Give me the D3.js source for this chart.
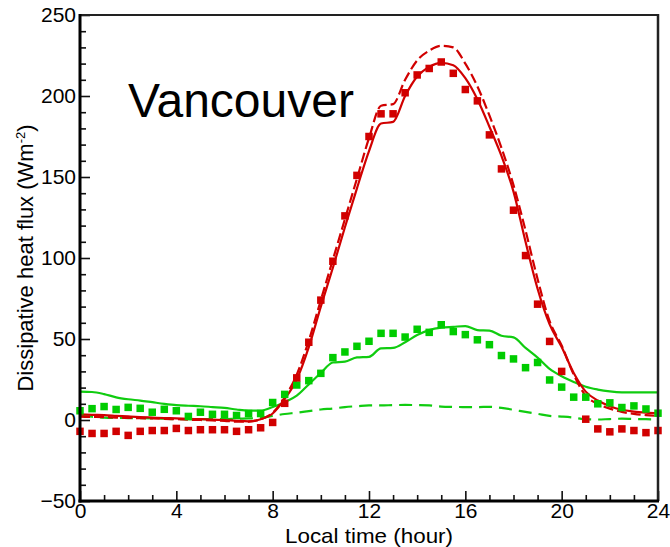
<!DOCTYPE html>
<html>
<head>
<meta charset="utf-8">
<script src="https://cdn.jsdelivr.net/npm/d3@7"></script>
<style>
  html, body { margin: 0; padding: 0; background: #fff; }
  svg { display: block; }
  text { font-family: "Liberation Sans", Arial, sans-serif; }
</style>
</head>
<body>
<svg id="chart" width="670" height="547"></svg>
<script>
// ---- data ----
const hours = [0,0.5,1,1.5,2,2.5,3,3.5,4,4.5,5,5.5,6,6.5,7,7.5,8,8.5,9,9.5,10,10.5,11,11.5,12,12.5,13,13.5,14,14.5,15,15.5,16,16.5,17,17.5,18,18.5,19,19.5,20,20.5,21,21.5,22,22.5,23,23.5,24];

// observed (squares)
const redObs = [-7,-8.3,-8.3,-7,-9.5,-7,-6.5,-6.5,-5.2,-6.5,-6,-6,-6,-7,-6,-4.8,-1.5,10.3,26,48,74,98,126,151,175,189,189,202,213,217,221,214,204,197,176,155,129.5,101.5,71.5,48.5,30,null,0.5,-5.5,-7.3,-5.5,-6.5,-7.8,-6.5];
const greenObs = [5.7,7,8.3,6.5,7.8,7.2,4.8,6.6,5.7,2.2,4.8,3.5,3.5,2.8,4,4,10.8,15.8,21.6,24.3,28.8,38.5,42,45.5,48.6,53.5,53.5,51.2,56,54.1,58.8,54.6,52.7,49.5,46.5,39.8,37.7,32.3,35.5,24.7,20.3,14.1,14.1,10,10.6,7.7,8.7,6.8,4.2];

// modelled (lines)
const redSolid = [3.5,3.2,3,2.6,2.2,1.8,1.5,1.2,1,0.7,0.5,0.2,0,-0.5,-0.8,0.5,4,13,25,45,70,94,119,143,166,183,184,200,212,218,220.5,219,211,198,181,163,141,110,81,59,45,29,17.5,12,8.5,6.3,5.2,4.5,4];
const redDashed = [2,1.9,1.8,1.5,1.3,1.1,1,0.7,0.5,0.2,0,-0.3,-0.5,-1,-1,0.5,4.5,14,28,49,74,99,124,149,174,194,195,210,222,228,231,230,220,206,188,168,145,117,87,61,46,28,15,10,7,5,3.8,3,2.5];
const greenSolid = [17.5,17.3,16,14,12.8,12,11,10,9.2,8.8,8.5,8,7.5,6.5,5.8,5.8,8,11,15,22,29,35.5,36,38.6,39,44.2,44.5,48,52.5,55.5,57,57.5,58,55.5,55.2,52,51,44.5,38.5,31.5,27,23.5,20.5,18.8,17.7,17.1,17,17,17];
const greenDashed = [2.5,2,1.5,1.3,1.2,1.1,1,0.8,0.5,0.5,0.5,0.5,0.5,0.8,1,1.3,2.5,3.7,4.5,5.5,6.5,7.1,8,8.5,9,9,9.2,9.3,9.2,9,8.3,8.1,8,8,8.1,7.5,6.3,5,3.8,2.5,2.1,1.5,0.4,0.3,0.6,0.8,0.6,0.5,0.3];

const xMajorTicks = [0,4,8,12,16,20,24];
const xMinorTicks = [1,2,3,5,6,7,9,10,11,13,14,15,17,18,19,21,22,23];
const yMajorTicks = [-50,0,50,100,150,200,250];
const yMinorTicks = [-40,-30,-20,-10,10,20,30,40,60,70,80,90,110,120,130,140,160,170,180,190,210,220,230,240];

const title = "Vancouver";
const xLabel = "Local time (hour)";

// ---- layout ----
const svg = d3.select("#chart");
const L = 80, R = 658, T = 15, B = 501;
const x = d3.scaleLinear().domain([0, 24]).range([L, R]);
const y = d3.scaleLinear().domain([-50, 250]).range([B, T]);

const RED = "#d10000", GREEN = "#10cc10";

// lines
const line = d3.line()
  .defined(d => d[1] != null)
  .x(d => x(d[0])).y(d => y(d[1]))
  .curve(d3.curveMonotoneX);
function series(vals){ return hours.map((h,i)=>[h, vals[i]]); }

const plot = svg.append("g");
plot.append("path").attr("d", line(series(greenDashed)))
  .attr("fill","none").attr("stroke",GREEN).attr("stroke-width",2.2).attr("stroke-dasharray","13,7");
plot.append("path").attr("d", line(series(greenSolid)))
  .attr("fill","none").attr("stroke",GREEN).attr("stroke-width",2.2);
plot.append("path").attr("d", line(series(redDashed)))
  .attr("fill","none").attr("stroke",RED).attr("stroke-width",2.2).attr("stroke-dasharray","10,4");
plot.append("path").attr("d", line(series(redSolid)))
  .attr("fill","none").attr("stroke",RED).attr("stroke-width",2.2);

// squares
const S = 7.5;
plot.selectAll("rect.g").data(series(greenObs).filter(d=>d[1]!=null)).enter()
  .append("rect").attr("class","g")
  .attr("x", d=>x(d[0])-S/2).attr("y", d=>y(d[1])-S/2)
  .attr("width",S).attr("height",S).attr("fill","#00cc00");
plot.selectAll("rect.r").data(series(redObs).filter(d=>d[1]!=null)).enter()
  .append("rect").attr("class","r")
  .attr("x", d=>x(d[0])-S/2).attr("y", d=>y(d[1])-S/2)
  .attr("width",S).attr("height",S).attr("fill",RED);

// axes
const fs = "21px";
const xAxis = svg.append("g").attr("transform",`translate(0,${B})`)
  .call(d3.axisBottom(x).tickValues(xMajorTicks).tickSize(-10).tickPadding(2).tickFormat(d3.format("d")));
const xMinor = svg.append("g").attr("transform",`translate(0,${B})`)
  .call(d3.axisBottom(x).tickValues(xMinorTicks).tickSize(-6).tickFormat(""));
const yAxis = svg.append("g").attr("transform",`translate(${L},0)`)
  .call(d3.axisLeft(y).tickValues(yMajorTicks).tickSize(-10).tickPadding(4).tickFormat(d3.format("d")));
const yMinor = svg.append("g").attr("transform",`translate(${L},0)`)
  .call(d3.axisLeft(y).tickValues(yMinorTicks).tickSize(-6).tickFormat(""));
[xAxis,xMinor,yAxis,yMinor].forEach(g=>{
  g.select(".domain").remove();
  g.selectAll(".tick line").attr("stroke","#111").attr("stroke-width",1.6);
  g.selectAll(".tick text").attr("font-size",fs).attr("fill","#000")
    .attr("font-family","'Liberation Sans', Arial, sans-serif");
});

// frame
svg.append("line").attr("x1",L).attr("x2",R).attr("y1",T).attr("y2",T).attr("stroke","#222").attr("stroke-width",2);
svg.append("line").attr("x1",R).attr("x2",R).attr("y1",T-1).attr("y2",B).attr("stroke","#222").attr("stroke-width",2.5);
svg.append("line").attr("x1",L).attr("x2",L).attr("y1",T-1).attr("y2",B+1.5).attr("stroke","#000").attr("stroke-width",3);
svg.append("line").attr("x1",L-1.5).attr("x2",R+1).attr("y1",B).attr("y2",B).attr("stroke","#000").attr("stroke-width",3);

// labels
svg.append("text").attr("x",(L+R)/2).attr("y",543).attr("text-anchor","middle")
  .attr("font-size","21px").attr("textLength",168).attr("lengthAdjust","spacingAndGlyphs").text(xLabel);
const yl = svg.append("text").attr("transform",`translate(33,${(T+B)/2}) rotate(-90)`)
  .attr("text-anchor","middle").attr("font-size","22px");
yl.append("tspan").text("Dissipative heat flux (Wm");
yl.append("tspan").attr("font-size","13px").attr("dy","-8").text("-2");
yl.append("tspan").attr("dy","8").text(")");

svg.append("text").attr("x",128).attr("y",117)
  .attr("font-family","Lato, 'Open Sans', sans-serif").attr("font-size","48px").attr("fill","#000")
  .text(title);
</script>
</body>
</html>
